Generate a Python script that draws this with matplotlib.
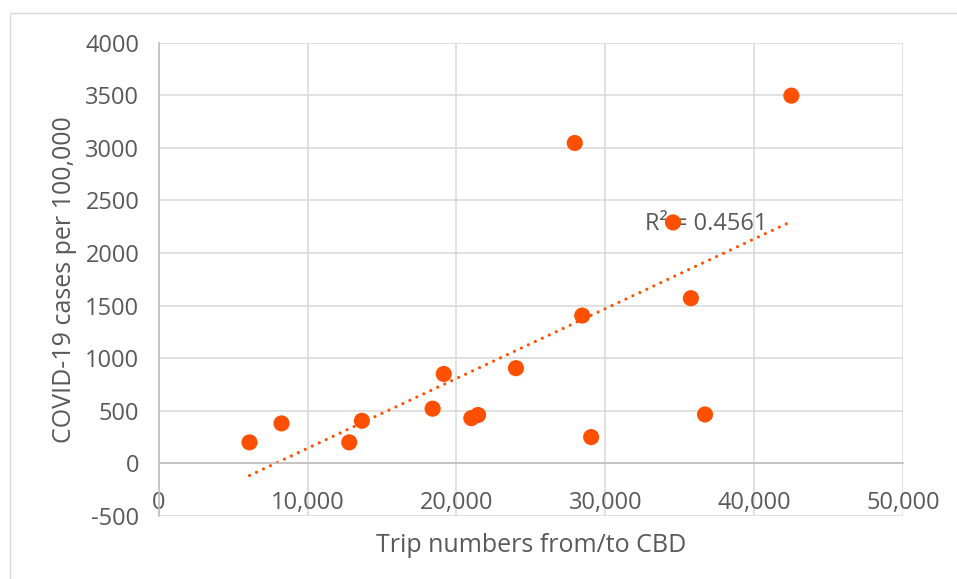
import numpy as np
import matplotlib
matplotlib.use("Agg")
import matplotlib.pyplot as plt
from matplotlib.patches import Rectangle
from matplotlib.ticker import FuncFormatter, MultipleLocator

plt.rcParams['font.family'] = ['Open Sans', 'DejaVu Sans']

# Trips from/to the CBD and COVID-19 case rates per area
trips = [6100, 8250, 12800, 13650, 18400, 19150, 21000, 21450, 24000,
         29050, 36700, 42500, 27950, 34550, 35750, 28450]
cases = [200, 380, 200, 405, 520, 850, 430, 460, 905,
         250, 465, 3495, 3045, 2290, 1570, 1405]
r2_label = "R² = 0.4561"

x_label = "Trip numbers from/to CBD"
y_label = "COVID-19 cases per 100,000"

orange = "#FE5000"
text_col = "#595959"
grid_col = "#D9D9D9"
axis_col = "#BFBFBF"

W, H = 957, 579
fig = plt.figure(figsize=(W / 100, H / 100), dpi=100)

# outer chart frame
fig.patches.append(Rectangle((10 / W, -0.05), 1.2, 1 - 13 / H + 0.05,
                             transform=fig.transFigure, fill=False,
                             edgecolor="#D9D9D9", linewidth=1.0))

ax = fig.add_axes([158.7 / W, (H - 516) / H, (903 - 158.7) / W, (516 - 42.5) / H])
ax.set_xlim(0, 50000)
ax.set_ylim(-500, 4000)
ax.xaxis.set_major_locator(MultipleLocator(10000))
ax.yaxis.set_major_locator(MultipleLocator(500))
ax.xaxis.set_major_formatter(FuncFormatter(lambda v, p: f"{int(v):,}"))
ax.yaxis.set_major_formatter(FuncFormatter(lambda v, p: f"{int(v)}"))

ax.grid(True, color=grid_col, linewidth=1.1, zorder=0)
ax.set_axisbelow(True)
for side in ("top", "right"):
    ax.spines[side].set_visible(False)
ax.spines["left"].set_color(axis_col)
ax.spines["left"].set_linewidth(1.2)
ax.spines["bottom"].set_position(("data", 0))
ax.spines["bottom"].set_color(axis_col)
ax.spines["bottom"].set_linewidth(1.2)

ax.tick_params(axis="both", length=0, labelsize=17, labelcolor=text_col)
ax.tick_params(axis="y", pad=14)
ax.tick_params(axis="x", pad=20)
for lbl in ax.get_xticklabels():
    lbl.set_clip_on(False)

# linear trendline through the points
coef = np.polyfit(trips, cases, 1)
xs = np.array([min(trips), max(trips)])
ax.plot(xs, np.polyval(coef, xs), color=orange, linewidth=2.3,
        linestyle=(0, (0.01, 2.4)), dash_capstyle="round", zorder=2)

ax.text(32650, 2275, r2_label, fontsize=17, color=text_col,
        va="center", ha="left", zorder=2)

ax.scatter(trips, cases, s=135, color=orange, edgecolors="none", zorder=3)

ax.set_xlabel(x_label, fontsize=18, color=text_col, labelpad=13)
ax.set_ylabel(y_label, fontsize=18, color=text_col, labelpad=6)

fig.savefig("out.png", dpi=100)
